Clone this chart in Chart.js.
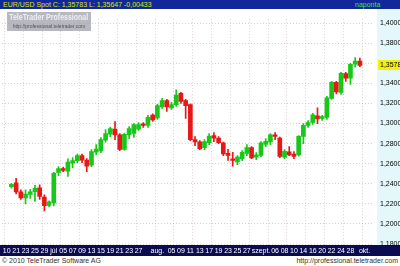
<!DOCTYPE html>
<html>
<head>
<meta charset="utf-8">
<script src="https://cdn.jsdelivr.net/npm/chart.js@4.4.0/dist/chart.umd.min.js"></script>
<style>
  body { margin: 0; width: 400px; height: 266px; overflow: hidden; background: #fff; position: relative; font-family: "Liberation Sans", Arial, sans-serif; }
  #head { position: absolute; left: 0; top: 0; width: 400px; height: 9px; background: #12289a; font-size: 7px; line-height: 9px; color: #d8e800; white-space: nowrap; }
  #head .l { position: absolute; left: 3px; }
  #head .r { position: absolute; left: 355px; color: #2ee82e; }
  #wrap { position: absolute; left: 0; top: 9px; width: 400px; height: 247px; }
  #mark { position: absolute; left: 7px; top: 12px; width: 84px; height: 19px; background: rgba(160,160,170,0.75); z-index: 2; text-align: center; white-space: nowrap; overflow: hidden; }
  #mark .tl { height: 11px; font-size: 9px; line-height: 11px; }
  #mark .t { display: inline-block; font-size: 9px; font-weight: bold; color: #eef0f8; line-height: 11px; transform: scaleX(0.78); transform-origin: center; margin: 0 -20px; }
  #mark .u { font-size: 5px; color: #505060; line-height: 6px; }
  #foot { position: absolute; left: 0; top: 256px; width: 400px; height: 10px; font-size: 7px; line-height: 10px; color: #333; }
  #foot .l { position: absolute; left: 2px; }
  #foot .r { position: absolute; right: 2px; }
</style>
</head>
<body>
<div id="head"><span class="l">EUR/USD Spot C: 1,35783 L: 1,35647 -0,00433</span><span class="r">naponta</span></div>
<div id="wrap"><canvas id="c"></canvas></div>
<div id="mark"><div class="tl"><span class="t">TeleTrader Professional</span></div><div class="u">http://professional.teletrader.com</div></div>
<div id="foot"><span class="l">© 2010 TeleTrader Software AG</span><span class="r">http://professional.teletrader.com</span></div>
<script>
// trading days (2010), two empty slots before and three after the data
const days = ['06-16','06-17','06-18','06-21','06-22','06-23','06-24','06-25','06-28','06-29','06-30',
  '07-01','07-02','07-05','07-06','07-07','07-08','07-09','07-12','07-13','07-14','07-15','07-16',
  '07-19','07-20','07-21','07-22','07-23','07-26','07-27','07-28','07-29','07-30',
  '08-02','08-03','08-04','08-05','08-06','08-09','08-10','08-11','08-12','08-13','08-16','08-17',
  '08-18','08-19','08-20','08-23','08-24','08-25','08-26','08-27','08-30','08-31',
  '09-01','09-02','09-03','09-06','09-07','09-08','09-09','09-10','09-13','09-14','09-15','09-16',
  '09-17','09-20','09-21','09-22','09-23','09-24','09-27','09-28','09-29','09-30',
  '10-01','10-04','10-05'];

// OHLC from 06-18 to 09-30
const opens = [1.2370, 1.2410, 1.2320, 1.2258, 1.2295, 1.2322, 1.2360, 1.2267, 1.2185,
  1.2210, 1.2512, 1.2552, 1.2525, 1.2605, 1.2630, 1.2680, 1.2635, 1.2584, 1.2715, 1.2727, 1.2835,
  1.2893, 1.2944, 1.2886, 1.2743, 1.2886, 1.2900, 1.2944, 1.2997, 1.2981, 1.3083,
  1.3055, 1.3165, 1.3229, 1.3156, 1.3188, 1.3299, 1.3229, 1.3188, 1.2839, 1.2817, 1.2760, 1.2810,
  1.2880, 1.2855, 1.2807, 1.2703, 1.2649, 1.2617, 1.2649, 1.2703, 1.2760, 1.2665,
  1.2681, 1.2791, 1.2817, 1.2887, 1.2855, 1.2665, 1.2719, 1.2696, 1.2687, 1.2871, 1.2982, 1.3010,
  1.3077, 1.3050, 1.3061, 1.3250, 1.3410, 1.3310, 1.3498, 1.3450, 1.3590, 1.3622];
const highs = [1.2405, 1.2455, 1.2340, 1.2340, 1.2345, 1.2385, 1.2390, 1.2290, 1.2230,
  1.2515, 1.2570, 1.2565, 1.2648, 1.2660, 1.2695, 1.2695, 1.2650, 1.2740, 1.2790, 1.2860, 1.2940,
  1.2965, 1.3020, 1.2900, 1.2905, 1.2970, 1.3000, 1.3010, 1.3010, 1.3080, 1.3095,
  1.3190, 1.3250, 1.3240, 1.3210, 1.3335, 1.3310, 1.3240, 1.3195, 1.2870, 1.2830, 1.2840, 1.2900,
  1.2910, 1.2870, 1.2815, 1.2744, 1.2712, 1.2680, 1.2730, 1.2790, 1.2770, 1.2710,
  1.2820, 1.2850, 1.2900, 1.2910, 1.2865, 1.2740, 1.2770, 1.2720, 1.2880, 1.3000, 1.3030, 1.3100,
  1.3156, 1.3080, 1.3270, 1.3420, 1.3420, 1.3510, 1.3510, 1.3600, 1.3655, 1.3650];
const lows = [1.2355, 1.2300, 1.2245, 1.2200, 1.2255, 1.2225, 1.2245, 1.2130, 1.2170,
  1.2180, 1.2480, 1.2520, 1.2473, 1.2560, 1.2610, 1.2610, 1.2520, 1.2570, 1.2690, 1.2710, 1.2815,
  1.2870, 1.2839, 1.2730, 1.2735, 1.2850, 1.2861, 1.2930, 1.2960, 1.2960, 1.3020,
  1.3040, 1.3150, 1.3120, 1.3140, 1.3170, 1.3200, 1.3050, 1.2830, 1.2780, 1.2740, 1.2740, 1.2790,
  1.2820, 1.2800, 1.2680, 1.2633, 1.2576, 1.2590, 1.2630, 1.2680, 1.2650, 1.2640,
  1.2670, 1.2770, 1.2790, 1.2840, 1.2660, 1.2650, 1.2680, 1.2650, 1.2675, 1.2800, 1.2960, 1.2990,
  1.2998, 1.3030, 1.3040, 1.3240, 1.3295, 1.3290, 1.3420, 1.3390, 1.3560, 1.35647];
const closes = [1.2395, 1.2320, 1.2260, 1.2298, 1.2320, 1.2355, 1.2275, 1.2181, 1.2220,
  1.2505, 1.2550, 1.2532, 1.2615, 1.2630, 1.2680, 1.2635, 1.2575, 1.2720, 1.2745, 1.2839, 1.2900,
  1.2950, 1.2886, 1.2743, 1.2893, 1.2950, 1.2988, 1.2988, 1.2981, 1.3061, 1.3035,
  1.3178, 1.3229, 1.3165, 1.3188, 1.3283, 1.3219, 1.3178, 1.2839, 1.2817, 1.2750, 1.2820, 1.2875,
  1.2855, 1.2810, 1.2696, 1.2681, 1.2633, 1.2665, 1.2712, 1.2760, 1.2658, 1.2687,
  1.2807, 1.2823, 1.2887, 1.2871, 1.2671, 1.2722, 1.2687, 1.2671, 1.2871, 1.2982, 1.3010, 1.3085,
  1.3045, 1.3068, 1.3255, 1.3410, 1.3315, 1.3500, 1.3450, 1.3590, 1.3622, 1.35783];

// axis labels
const tickDays = ['06-17','06-21','06-23','06-25','06-29','07-01','07-05','07-07','07-09','07-13','07-15',
  '07-19','07-21','07-23','07-27','08-02','08-05','08-09','08-11','08-13','08-17','08-19','08-23',
  '08-25','08-27','09-01','09-06','09-08','09-10','09-14','09-16','09-20','09-22','09-24','09-28','10-01'];
const tickText = ['10','21','23','25','29','júl','05','07','09','13','15',
  '19','21','23','27','aug.','05','09','11','13','17','19','23',
  '25','27','szept.','06','08','10','14','16','20','22','24','28','okt.'];
const yTicks = [1.18, 1.20, 1.22, 1.24, 1.26, 1.28, 1.30, 1.32, 1.34, 1.36, 1.38, 1.40];
const lastPrice = 1.35783;

const UP = '#18c818', DOWN = '#e81818';
const first = days.indexOf('06-18');
const slot = (arr) => days.map((d, i) => (i >= first && i - first < arr.length) ? arr[i - first] : null);
const o = slot(opens), h = slot(highs), l = slot(lows), c = slot(closes);
const colors = days.map((d, i) => c[i] === null ? UP : (c[i] >= o[i] ? UP : DOWN));
const fmt = (v) => v.toFixed(5).replace('.', ',');

const frame = {
  id: 'frame',
  beforeDraw(chart) {
    const { ctx, chartArea: a, width, height } = chart;
    ctx.save();
    ctx.fillStyle = '#e4f7fb';
    ctx.fillRect(a.right + 3, 0, width - a.right - 3, a.bottom);
    ctx.fillStyle = '#0b0b52';
    ctx.fillRect(0, a.bottom, width, height - a.bottom);
    ctx.restore();
  },
  afterDraw(chart) {
    const { ctx, chartArea: a, width } = chart;
    const y = chart.scales.y.getPixelForValue(lastPrice);
    ctx.save();
    ctx.fillStyle = '#f4f000';
    ctx.fillRect(a.right + 4, Math.round(y) - 5, width - a.right - 4, 10);
    ctx.fillStyle = '#000';
    ctx.font = '7px "Liberation Sans", sans-serif';
    ctx.textBaseline = 'middle';
    ctx.fillText(fmt(lastPrice), a.right + 6, y);
    ctx.restore();
  }
};

new Chart(document.getElementById('c'), {
  type: 'bar',
  data: {
    labels: days,
    datasets: [
      {
        label: 'body',
        data: days.map((d, i) => o[i] === null ? null : [o[i], c[i]]),
        backgroundColor: colors,
        barThickness: 4,
        grouped: false,
        order: 0
      },
      {
        label: 'wick',
        data: days.map((d, i) => l[i] === null ? null : [l[i], h[i]]),
        backgroundColor: colors,
        barThickness: 1,
        grouped: false,
        order: 1
      }
    ]
  },
  options: {
    responsive: true,
    maintainAspectRatio: false,
    animation: false,
    layout: { padding: 0 },
    plugins: { legend: { display: false }, tooltip: { enabled: false } },
    scales: {
      x: {
        offset: false,
        grid: {
          color: (ctx) => ctx.index % 4 === 1 ? 'rgba(205,185,185,0.7)' : 'transparent',
          drawTicks: false
        },
        border: { display: false, dash: [1, 2] },
        ticks: {
          autoSkip: false,
          maxRotation: 0,
          color: '#ffffff',
          padding: 2,
          font: { size: 7, family: '"Liberation Sans", Arial, sans-serif' },
          callback: (v, i) => {
            const k = tickDays.indexOf(days[i]);
            return k < 0 ? '' : tickText[k];
          }
        },
        afterFit: (s) => { s.height = 11; }
      },
      y: {
        position: 'right',
        min: 1.17905,
        max: 1.40381,
        afterBuildTicks: (s) => { s.ticks = yTicks.map(v => ({ value: v })); },
        grid: { color: 'rgba(205,185,185,0.7)', drawTicks: false },
        border: { display: false, dash: [1, 2] },
        ticks: {
          color: '#000',
          padding: 6,
          font: { size: 7, family: '"Liberation Sans", Arial, sans-serif' },
          // the last-price box replaces the nearby grid label
          callback: (v) => Math.abs(v - lastPrice) < 0.006 ? '' : fmt(v)
        },
        afterFit: (s) => { s.width = 26; }
      }
    }
  },
  plugins: [frame]
});
</script>
</body>
</html>
